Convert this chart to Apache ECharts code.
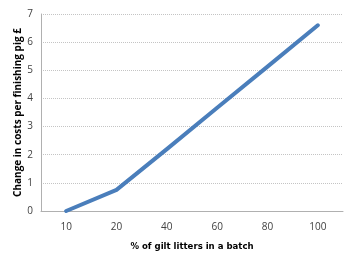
<!DOCTYPE html>
<html><head><meta charset="utf-8">
<script src="https://cdn.jsdelivr.net/npm/echarts@6/dist/echarts.min.js"></script>
<style>html,body{margin:0;padding:0;background:#fff}#c{width:353px;height:269px}</style>
</head><body><div id="c"></div>
<script>
const categories = ['10','20','40','60','80','100'];
const costChange = [0, 0.75, 2.2, 3.67, 5.13, 6.6];
const yTicks = {min: 0, max: 7, interval: 1};
const xTitle = '% of gilt litters in a batch';
const yTitle = 'Change in costs per finishing pig £';

const chart = echarts.init(document.getElementById('c'));
const font = 'Open Sans, Liberation Sans, sans-serif';
chart.setOption({
  animation: false,
  grid: {left: 41, right: 10, top: 14, bottom: 58, containLabel: false},
  xAxis: {
    type: 'category', data: categories, boundaryGap: true,
    name: xTitle, nameLocation: 'middle', nameGap: 31, nameMoveOverlap: false,
    nameTextStyle: {fontFamily: 'DejaVu Sans Condensed, Liberation Sans, sans-serif', fontSize: 9.5, fontWeight: 'bold', color: '#000'},
    axisLine: {lineStyle: {color: '#b0b0b0'}},
    axisTick: {show: false},
    axisLabel: {fontFamily: font, fontSize: 10, color: '#404040', margin: 11}
  },
  yAxis: {
    type: 'value', min: yTicks.min, max: yTicks.max, interval: yTicks.interval,
    name: yTitle, nameLocation: 'middle', nameGap: 18, nameRotate: 90, nameMoveOverlap: false,
    nameTextStyle: {fontFamily: font, fontSize: 10, fontWeight: 'bold', color: '#000'},
    axisLine: {show: true, lineStyle: {color: '#b0b0b0'}},
    axisTick: {show: false},
    splitLine: {lineStyle: {color: '#c4c4c4', type: 'dotted'}},
    axisLabel: {fontFamily: font, fontSize: 10, color: '#404040', margin: 8}
  },
  series: [{
    type: 'line', data: costChange, symbol: 'none',
    lineStyle: {color: '#4a7ebb', width: 4, cap: 'round', join: 'round'}
  }]
});
</script></body></html>
